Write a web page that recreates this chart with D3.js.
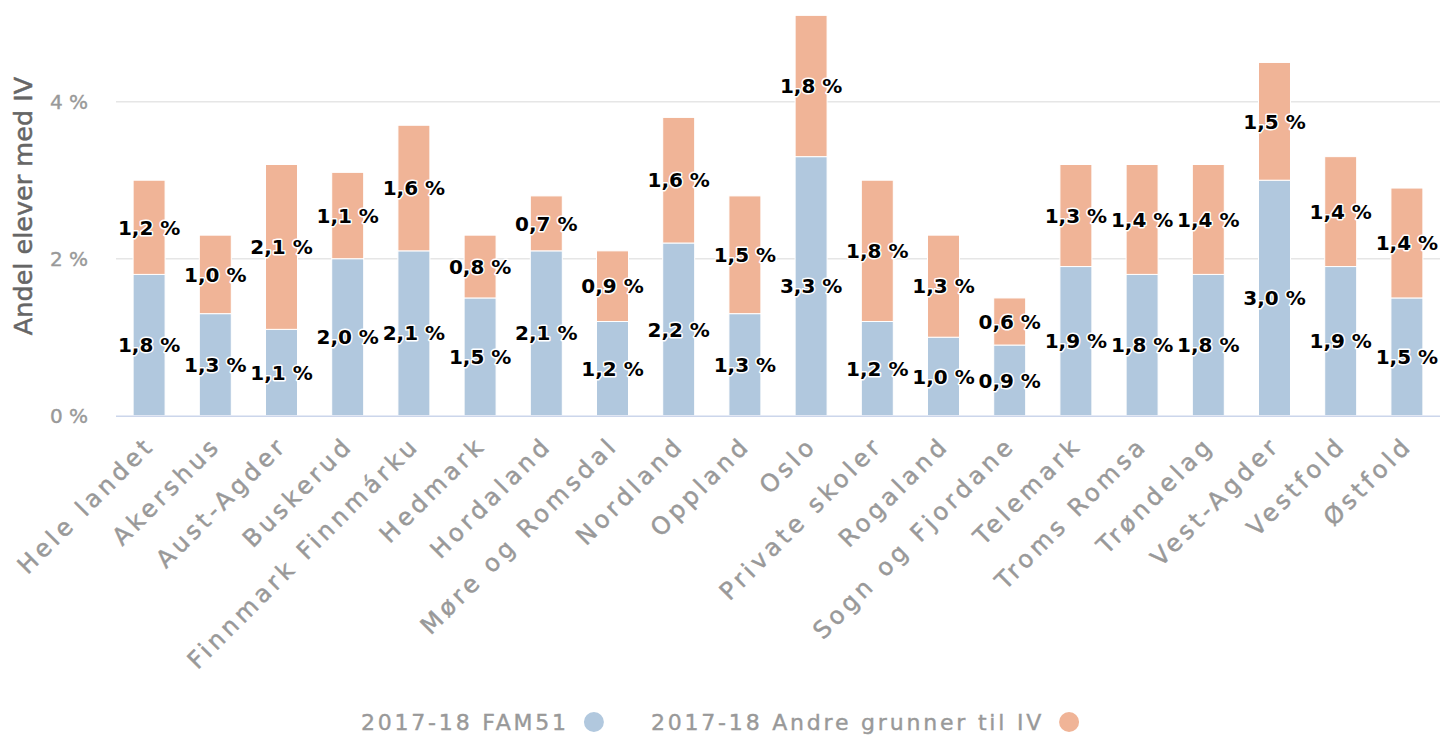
<!DOCTYPE html>
<html>
<head>
<meta charset="utf-8">
<script src="https://cdn.jsdelivr.net/npm/d3@7"></script>
<style>
  body { margin: 0; background: #fff; }
  svg { display: block; font-family: "DejaVu Sans", Verdana, sans-serif; }
</style>
</head>
<body>
<svg id="chart" width="1440" height="735"></svg>
<script>
// Categories and the two stacked series (percent of pupils)
const categories = ["Hele landet", "Akershus", "Aust-Agder", "Buskerud", "Finnmark Finnmárku",
  "Hedmark", "Hordaland", "Møre og Romsdal", "Nordland", "Oppland", "Oslo", "Private skoler",
  "Rogaland", "Sogn og Fjordane", "Telemark", "Troms Romsa", "Trøndelag", "Vest-Agder",
  "Vestfold", "Østfold"];
const fam51 = [1.8, 1.3, 1.1, 2.0, 2.1, 1.5, 2.1, 1.2, 2.2, 1.3, 3.3, 1.2, 1.0, 0.9, 1.9, 1.8, 1.8, 3.0, 1.9, 1.5];
const andre = [1.2, 1.0, 2.1, 1.1, 1.6, 0.8, 0.7, 0.9, 1.6, 1.5, 1.8, 1.8, 1.3, 0.6, 1.3, 1.4, 1.4, 1.5, 1.4, 1.4];
const seriesNames = ["2017-18 FAM51", "2017-18 Andre grunner til IV"];
const yTicks = [0, 2, 4];

const colors = ["#b1c8de", "#f0b497"];

const svg = d3.select("#chart");
const plot = { left: 116, right: 1440, bottom: 415.7 };

// Build rows for d3.stack
const rows = categories.map((c, i) => ({ cat: c, fam51: fam51[i], andre: andre[i] }));
const stacked = d3.stack().keys(["fam51", "andre"])(rows);

const x = d3.scaleBand()
  .domain(categories)
  .range([plot.left, plot.right])
  .paddingInner(0.517)
  .paddingOuter(0.2585);

const y = d3.scaleLinear()
  .domain([0, 4])
  .range([plot.bottom, 101.7]);

// Gridlines
svg.append("g")
  .selectAll("line")
  .data(yTicks.filter(d => d > 0))
  .join("line")
  .attr("x1", plot.left)
  .attr("x2", plot.right)
  .attr("y1", d => y(d))
  .attr("y2", d => y(d))
  .attr("stroke", "#e6e6e6")
  .attr("stroke-width", 1.5);

// Y tick labels
svg.append("g")
  .selectAll("text")
  .data(yTicks)
  .join("text")
  .attr("x", 88)
  .attr("y", d => y(d))
  .attr("dy", "0.36em")
  .attr("text-anchor", "end")
  .attr("fill", "#999")
  .attr("stroke", "#999")
  .attr("stroke-width", 0.4)
  .style("font-size", "20px")
  .text(d => `${d} %`);

// Y axis title
svg.append("text")
  .attr("transform", `translate(32,206) rotate(-90)`)
  .attr("text-anchor", "middle")
  .attr("fill", "#666")
  .attr("stroke", "#666")
  .attr("stroke-width", 0.5)
  .style("font-size", "25.5px")
  .text("Andel elever med IV");

// Bars
const layers = svg.append("g")
  .selectAll("g")
  .data(stacked)
  .join("g")
  .attr("fill", (d, i) => colors[i]);

layers.selectAll("rect")
  .data(d => d)
  .join("rect")
  .attr("x", d => x(d.data.cat))
  .attr("y", d => y(d[1]))
  .attr("width", x.bandwidth())
  .attr("height", d => y(d[0]) - y(d[1]))
  .attr("stroke", "#fff")
  .attr("stroke-width", 1);

// X axis line
svg.append("line")
  .attr("x1", plot.left)
  .attr("x2", plot.right)
  .attr("y1", plot.bottom + 0.5)
  .attr("y2", plot.bottom + 0.5)
  .attr("stroke", "#ccd6eb")
  .attr("stroke-width", 1.5);

// Data labels
const fmt = v => d3.format(".1f")(v).replace(".", ",") + " %";
svg.append("g")
  .selectAll("g")
  .data(stacked)
  .join("g")
  .selectAll("text")
  .data(d => d)
  .join("text")
  .attr("x", d => x(d.data.cat) + x.bandwidth() / 2)
  .attr("y", d => y((d[0] + d[1]) / 2))
  .attr("dy", "0.36em")
  .attr("text-anchor", "middle")
  .attr("fill", "#000")
  .attr("stroke", "#fff")
  .attr("stroke-width", 3)
  .attr("stroke-linejoin", "round")
  .attr("paint-order", "stroke")
  .style("font-size", "20px")
  .style("font-weight", "bold")
  .text(d => fmt(d[1] - d[0]));

// X category labels, rotated
svg.append("g")
  .selectAll("text")
  .data(categories)
  .join("text")
  .attr("transform", d => `translate(${x(d) + x.bandwidth() / 2 + 7},${plot.bottom + 31}) rotate(-45)`)
  .attr("text-anchor", "end")
  .attr("fill", "#999")
  .attr("stroke", "#999")
  .attr("stroke-width", 0.5)
  .style("font-size", "24px")
  .style("letter-spacing", "4px")
  .text(d => d);

// Legend, centred
const legend = svg.append("g");
const items = legend.selectAll("g")
  .data(seriesNames)
  .join("g");
items.append("text")
  .attr("y", 730)
  .attr("fill", "#999")
  .attr("stroke", "#999")
  .attr("stroke-width", 0.4)
  .style("font-size", "22px")
  .style("letter-spacing", "2.8px")
  .text(d => d);
let cursor = 0;
const gapCircle = 25, gapItem = 47, r = 10;
items.each(function (d, i) {
  const g = d3.select(this);
  const w = g.select("text").node().getComputedTextLength();
  g.select("text").attr("x", cursor);
  g.append("circle")
    .attr("cx", cursor + w + gapCircle)
    .attr("cy", 722)
    .attr("r", r)
    .attr("fill", colors[i]);
  cursor += w + gapCircle + r + gapItem;
});
const totalW = cursor - gapItem;
legend.attr("transform", `translate(${(1440 - totalW) / 2},0)`);
</script>
</body>
</html>
